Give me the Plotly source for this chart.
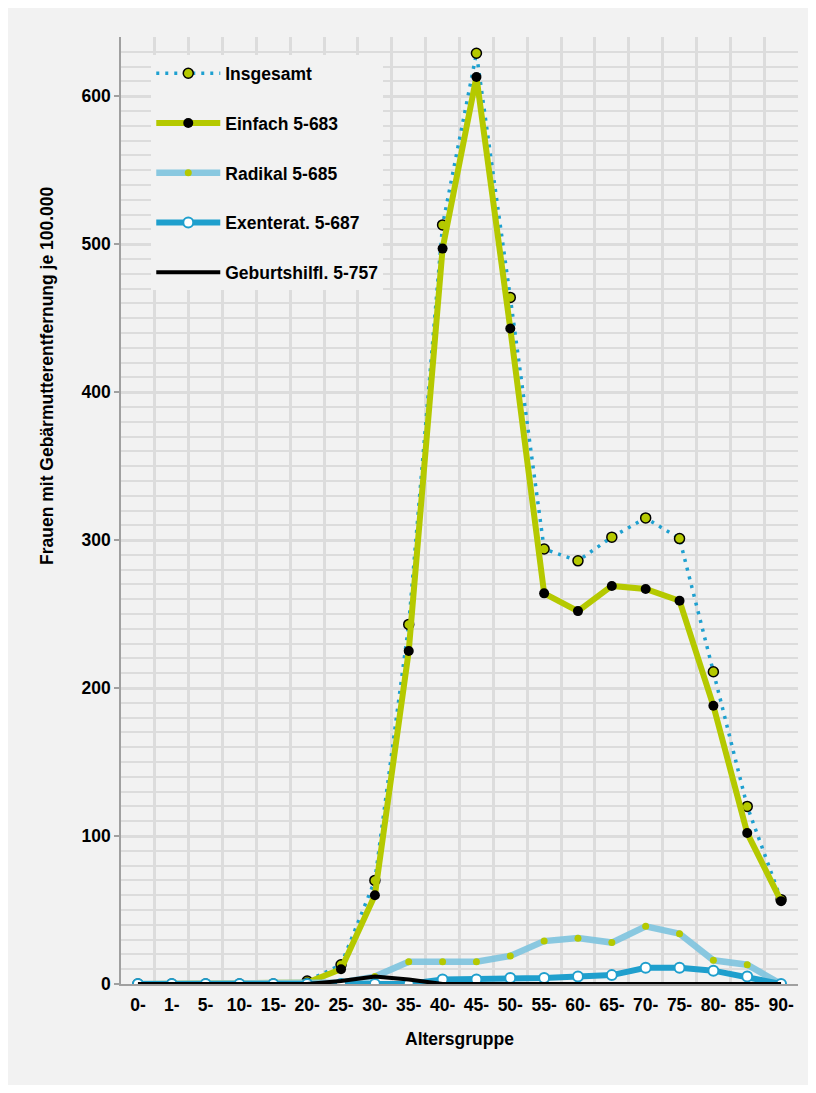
import plotly.graph_objects as go

# age groups
categories = ["0-", "1-", "5-", "10-", "15-", "20-", "25-", "30-", "35-", "40-",
              "45-", "50-", "55-", "60-", "65-", "70-", "75-", "80-", "85-", "90-"]

# women with hysterectomy per 100.000
insgesamt = [0, 0, 0, 0, 0, 2, 13, 70, 243, 513, 629, 464, 294, 286, 302, 315, 301, 211, 120, 57]
einfach = [0, 0, 0, 0, 0, 1, 10, 60, 225, 497, 613, 443, 264, 252, 269, 267, 259, 188, 102, 56]
radikal = [0, 0, 0, 0, 0, 0, 1, 5, 15, 15, 15, 19, 29, 31, 28, 39, 34, 16, 13, 0]
exenterat = [0, 0, 0, 0, 0, 0, 0, 0, 0, 3, 3, 4, 4, 5, 6, 11, 11, 9, 5, 0]
geburtshilfl = [0, 0, 0, 0, 0, 0, 2, 5, 3, 0, 0, 0, 0, 0, 0, 0, 0, 0, 0, 0]

y_ticks = [0, 100, 200, 300, 400, 500, 600]

BG = "#f2f2f2"
GRID = "#dcdcdc"
FONT = "Liberation Sans, Arial, sans-serif"
FS = 17.5

fig = go.Figure()

fig.add_trace(go.Scatter(
    x=categories, y=insgesamt, name="Insgesamt", legendgroup="a",
    mode="lines+markers",
    line=dict(color="#1ea0d0", width=3.5, dash="3px,6px"),
    marker=dict(size=10, color="#b5c900", line=dict(color="black", width=1.5)),
))
fig.add_trace(go.Scatter(
    x=categories, y=einfach, name="Einfach 5-683", legendgroup="b",
    mode="lines+markers",
    line=dict(color="#b5c900", width=6),
    marker=dict(size=10, color="black"),
))
fig.add_trace(go.Scatter(
    x=categories, y=radikal, name="Radikal 5-685", legendgroup="c",
    mode="lines+markers",
    line=dict(color="rgba(125,195,222,0.9)", width=6.5),
    marker=dict(size=7, color="#b5c900"),
))
fig.add_trace(go.Scatter(
    x=categories, y=exenterat, name="Exenterat. 5-687", legendgroup="d",
    mode="lines+markers",
    line=dict(color="#1f9fcd", width=6),
    marker=dict(size=10, color="white", line=dict(color="#1f9fcd", width=2)),
))
fig.add_trace(go.Scatter(
    x=categories, y=geburtshilfl, name="Geburtshilfl. 5-757", legendgroup="e",
    mode="lines",
    line=dict(color="black", width=4),
))

# page has an 8px body margin; figure coords = page coords - 8
W, H = 800, 1077
L, R, T, B = 113, 790, 29, 976
pw, ph = R - L, B - T

fig.add_annotation(
    text="Frauen mit Gebärmutterentfernung je 100.000",
    xref="paper", yref="paper", x=(27 - L) / pw, y=(B - 368) / ph,
    textangle=-90, showarrow=False,
    font=dict(family=FONT, size=FS, color="black", weight="bold"),
)
fig.add_annotation(
    text="Altersgruppe",
    xref="paper", yref="paper", x=0.5, y=(B - 1043) / ph,
    showarrow=False,
    font=dict(family=FONT, size=FS, color="black", weight="bold"),
)

fig.update_layout(
    width=W, height=H,
    margin=dict(l=L, r=W - R, t=T, b=H - B),
    paper_bgcolor=BG,
    plot_bgcolor=BG,
    font=dict(family=FONT, size=FS, color="black", weight="bold"),
    legend=dict(
        x=0.0447, y=0.9806, xanchor="left", yanchor="top",
        bgcolor=BG, borderwidth=0,
        font=dict(family=FONT, size=FS, color="black", weight="bold"),
        tracegroupgap=24, itemwidth=64,
    ),
    xaxis=dict(
        type="category", range=[-0.5, 19.5], tickson="boundaries",
        showgrid=True, gridcolor=GRID, gridwidth=3,
        ticks="", showline=True, linecolor="#a0a0a0", linewidth=1.5,
        tickfont=dict(family=FONT, size=FS, color="black", weight="bold"),
        ticklabelstandoff=4,
        zeroline=False,
    ),
    yaxis=dict(
        range=[0, 640], tickvals=y_ticks,
        showgrid=True, gridcolor=GRID, gridwidth=3,
        minor=dict(dtick=10, showgrid=True, gridcolor=GRID, gridwidth=2),
        ticks="outside", ticklen=5, tickcolor="#a0a0a0", tickwidth=1.5,
        showline=True, linecolor="#a0a0a0", linewidth=1.5,
        tickfont=dict(family=FONT, size=FS, color="black", weight="bold"),
        zeroline=False,
    ),
)

fig.write_html("out.html")
